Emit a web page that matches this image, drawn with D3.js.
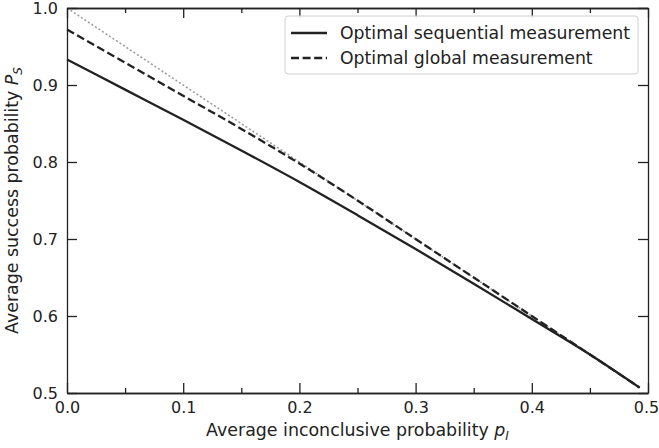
<!DOCTYPE html>
<html>
<head>
<meta charset="utf-8">
<script src="https://cdn.jsdelivr.net/npm/d3@7"></script>
<style>
  body { margin: 0; background: #fff; }
  svg { font-family: "DejaVu Sans", sans-serif; }
</style>
</head>
<body>
<div id="chart"></div>
<script>
// values
const pI = [0, 0.05, 0.1, 0.15, 0.2, 0.25, 0.3, 0.35, 0.4, 0.45, 0.4928];
const sequential = [0.933, 0.894, 0.855, 0.815, 0.774, 0.731, 0.687, 0.642, 0.596, 0.550, 0.507];
const global = [0.972, 0.929, 0.886, 0.843, 0.798, 0.750, 0.700, 0.650, 0.600, 0.550, 0.507];
const boundX = [0, 0.4928];
const boundY = [1.0, 0.507];
const xTicks = [0, 0.1, 0.2, 0.3, 0.4, 0.5];
const xMinor = [0.05, 0.15, 0.25, 0.35, 0.45];
const yTicks = [0.5, 0.6, 0.7, 0.8, 0.9, 1.0];
const legendLabels = ["Optimal sequential measurement", "Optimal global measurement"];

const width = 659, height = 448;
const margin = { top: 8, right: 11, bottom: 55, left: 67 };
const ink = "#222";

const svg = d3.select("#chart").append("svg")
    .attr("width", width)
    .attr("height", height);

const x = d3.scaleLinear().domain([0, 0.5]).range([margin.left, width - margin.right]);
const y = d3.scaleLinear().domain([0.5, 1.0]).range([height - margin.bottom, margin.top]);

const line = d3.line()
    .x(d => x(d[0]))
    .y(d => y(d[1]))
    .curve(d3.curveMonotoneX);

const plot = svg.append("g");

// gray dotted bound
plot.append("path")
    .datum(boundX.map((v, i) => [v, boundY[i]]))
    .attr("d", line)
    .attr("fill", "none")
    .attr("stroke", "#999")
    .attr("stroke-width", 1.5)
    .attr("stroke-dasharray", "2,2.2");

plot.append("path")
    .datum(pI.map((v, i) => [v, global[i]]))
    .attr("d", line)
    .attr("fill", "none")
    .attr("stroke", ink)
    .attr("stroke-width", 2.3)
    .attr("stroke-dasharray", "8,3.6");

plot.append("path")
    .datum(pI.map((v, i) => [v, sequential[i]]))
    .attr("d", line)
    .attr("fill", "none")
    .attr("stroke", ink)
    .attr("stroke-width", 2.3);

// axes, ticks pointing inward on all four sides
function tickFmt(d) { return d3.format(".1f")(d); }

const bottomAxis = svg.append("g")
    .attr("transform", `translate(0,${height - margin.bottom})`)
    .call(d3.axisBottom(x).tickValues(xTicks).tickFormat(tickFmt).tickSizeInner(-10).tickSizeOuter(0).tickPadding(9));
svg.append("g")
    .attr("transform", `translate(0,${height - margin.bottom})`)
    .call(d3.axisBottom(x).tickValues(xMinor).tickFormat("").tickSizeInner(-5).tickSizeOuter(0));
svg.append("g")
    .attr("transform", `translate(0,${margin.top})`)
    .call(d3.axisTop(x).tickValues(xTicks).tickFormat("").tickSizeInner(-10).tickSizeOuter(0));
svg.append("g")
    .attr("transform", `translate(0,${margin.top})`)
    .call(d3.axisTop(x).tickValues(xMinor).tickFormat("").tickSizeInner(-5).tickSizeOuter(0));

svg.append("g")
    .attr("transform", `translate(${margin.left},0)`)
    .call(d3.axisLeft(y).tickValues(yTicks).tickFormat(tickFmt).tickSizeInner(-10).tickSizeOuter(0).tickPadding(9));
svg.append("g")
    .attr("transform", `translate(${width - margin.right},0)`)
    .call(d3.axisRight(y).tickValues(yTicks).tickFormat("").tickSizeInner(-10).tickSizeOuter(0));

svg.selectAll(".domain").attr("stroke", ink).attr("stroke-width", 1.3);
svg.selectAll(".tick line").attr("stroke", ink).attr("stroke-width", 1.3);
svg.selectAll(".tick text")
    .attr("fill", ink)
    .style("font-size", "16px")
    .style("font-family", "DejaVu Sans");

// last x label sits on the page edge, nudge it in a bit
bottomAxis.selectAll(".tick text").filter(d => d === 0.5).attr("dx", -2);

// axis labels
const xl = svg.append("text")
    .attr("x", (margin.left + width - margin.right) / 2)
    .attr("y", 436)
    .attr("text-anchor", "middle")
    .attr("fill", ink)
    .style("font-size", "17.4px");
xl.append("tspan").text("Average inconclusive probability ");
xl.append("tspan").attr("font-style", "italic").text("p");
xl.append("tspan").attr("font-style", "italic").attr("font-size", "12px").attr("dy", 4).text("I");

const yl = svg.append("text")
    .attr("transform", `translate(18,${(margin.top + height - margin.bottom) / 2}) rotate(-90)`)
    .attr("text-anchor", "middle")
    .attr("fill", ink)
    .style("font-size", "17.4px");
yl.append("tspan").text("Average success probability ");
yl.append("tspan").attr("font-style", "italic").text("P");
yl.append("tspan").attr("font-style", "italic").attr("font-size", "12px").attr("dy", 4).text("S");

// legend
const lg = svg.append("g").attr("transform", "translate(285,16)");
lg.append("rect")
    .attr("width", 353)
    .attr("height", 58)
    .attr("rx", 3)
    .attr("fill", "#fff")
    .attr("fill-opacity", 0.85)
    .attr("stroke", "#d0d0d0")
    .attr("stroke-width", 1);

const items = lg.selectAll("g.item")
    .data(legendLabels)
    .join("g")
    .attr("class", "item")
    .attr("transform", (d, i) => `translate(0,${17 + i * 25})`);

items.append("line")
    .attr("x1", 6)
    .attr("x2", 42)
    .attr("stroke", ink)
    .attr("stroke-width", 2.3)
    .attr("stroke-dasharray", (d, i) => i === 0 ? null : "8,3.6");

items.append("text")
    .attr("x", 55)
    .attr("dy", "0.35em")
    .attr("fill", ink)
    .style("font-size", "17.3px")
    .text(d => d);
</script>
</body>
</html>
